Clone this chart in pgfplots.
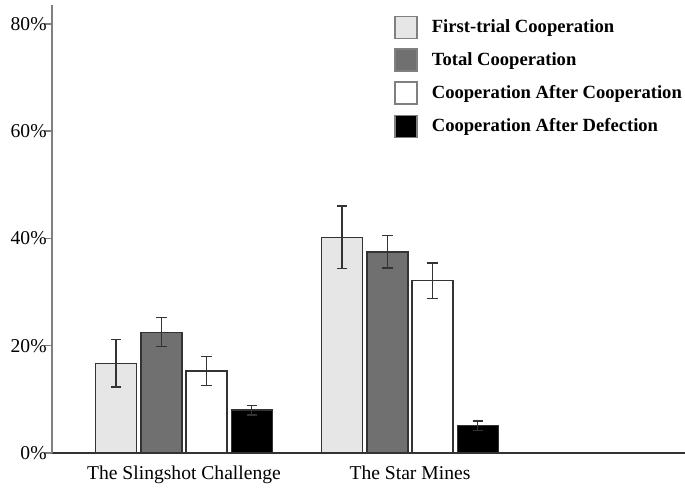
\documentclass[border=0pt]{standalone}
\usepackage{pgfplots}
\pgfplotsset{compat=1.18}
\usepackage{fontspec}
\setmainfont{Liberation Serif}
\definecolor{lgray}{HTML}{E6E6E6}
\definecolor{dgray}{HTML}{707070}
\definecolor{edge}{HTML}{333333}
\definecolor{axgray}{HTML}{808080}
\begin{document}
\begin{tikzpicture}
\begin{axis}[
  name=main,
  scale only axis,
  width=316.5pt, height=224pt,
  xmin=-0.584, xmax=2.217,
  ymin=0, ymax=83.5,
  axis x line=bottom, axis y line=left,
  axis line style={-},
  x axis line style={edge, line width=0.8pt},
  y axis line style={axgray, line width=0.8pt},
  ytick={0,20,40,60,80},
  yticklabel={\pgfmathprintnumber{\tick}\%},
  /pgf/number format/assume math mode=true,
  tick align=outside,
  major tick length=4pt,
  y tick style={axgray, line width=0.8pt},
  xtick={0,1},
  xticklabels={The Slingshot Challenge, The Star Mines},
  x tick style={draw=none},
  extra x ticks={0.606},
  extra x tick labels={},
  extra x tick style={tick style={draw=edge, line width=0.6pt}, major tick length=3.5pt},
  tick label style={font=\fontsize{9.8}{12}\selectfont},
  yticklabel style={xshift=2.5pt, inner sep=1pt},
  xticklabel style={yshift=1pt},
  ybar, bar width=0.181, bar shift=0pt,
  error bars/y dir=both, error bars/y explicit,
  error bars/error bar style={edge, line width=0.7pt},
  error bars/error mark options={edge, line width=0.7pt, mark size=2.6pt, rotate=90},
  legend style={draw=none, fill=none, at={(0.541,0.977)}, anchor=north west,
    inner sep=0pt, outer sep=0pt,
    font=\bfseries\fontsize{9.3}{11}\selectfont, row sep=4.5pt},
  legend cell align=left,
  legend image code/.code={\draw[#1, draw=axgray] (0pt,-5.5pt) rectangle (11pt,5.5pt); \path (16pt,0pt);},
]
\addplot[fill=lgray, draw=edge, line width=0.7pt] coordinates {(-0.30,16.7) +- (0,4.4) (0.70,40.2) +- (0,5.8)};
\addlegendentry{First-trial Cooperation}
\addplot[fill=dgray, draw=edge, line width=0.7pt] coordinates {(-0.10,22.5) +- (0,2.7) (0.90,37.5) +- (0,3.0)};
\addlegendentry{Total Cooperation}
\addplot[fill=white, draw=edge, line width=0.7pt] coordinates {(0.10,15.3) +- (0,2.7) (1.10,32.1) +- (0,3.3)};
\addlegendentry{Cooperation After Cooperation}
\addplot[fill=black, draw=edge, line width=0.7pt] coordinates {(0.30,8.0) +- (0,0.9) (1.30,5.1) +- (0,0.9)};
\addlegendentry{Cooperation After Defection}
\end{axis}
\pgfresetboundingbox
\path ([xshift=-26pt, yshift=-17.5pt]main.south west) rectangle ([yshift=2.5pt]main.north east);
\end{tikzpicture}
\end{document}
